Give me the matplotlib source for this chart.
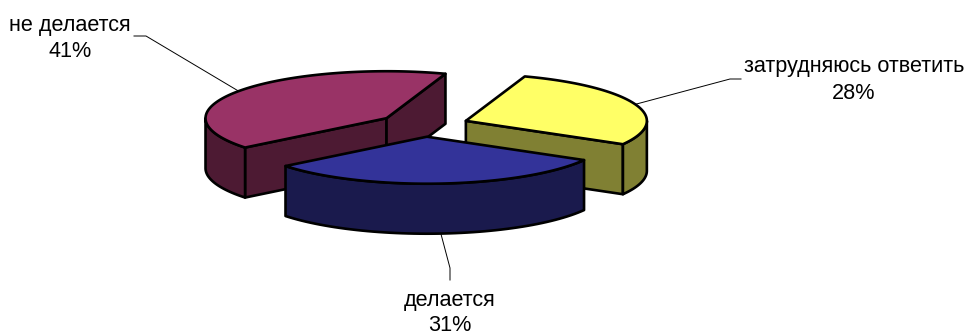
import numpy as np
import matplotlib
matplotlib.use('Agg')
import matplotlib.pyplot as plt
from matplotlib.patches import Polygon

plt.rcParams['font.family'] = ['Liberation Sans', 'DejaVu Sans']

# Данные диаграммы
labels = ['затрудняюсь ответить', 'делается', 'не делается']
values = [28, 31, 41]
top_colors = ['#FFFF66', '#333399', '#993366']
side_colors = ['#808033', '#1A1A4D', '#4D1A33']

# Геометрия псевдо-3D круга (в пикселях)
cx, cy = 423.5, 125
rx, ry = 181, 47
depth = 50
explode = 0.25
start_angle = 71
line_w = 1.9


def ell(x0, y0, t, dy=0):
    t = np.radians(t)
    return np.column_stack([x0 + rx * np.cos(t), y0 - ry * np.sin(t) + dy])


fig = plt.figure(figsize=(9.68, 3.31), dpi=100)
ax = fig.add_axes([0, 0, 1, 1])
ax.set_xlim(0, 968)
ax.set_ylim(331, 0)
ax.axis('off')

# Углы долей (по часовой стрелке от начального угла)
edges = start_angle - np.cumsum([0] + values) * 3.6
slices = []
for i in range(len(values)):
    a0, a1 = edges[i], edges[i + 1]
    mid = np.radians((a0 + a1) / 2)
    x0 = cx + explode * rx * np.cos(mid)
    y0 = cy - explode * ry * np.sin(mid)
    slices.append((i, a0, a1, x0, y0))


def draw_slice(i, a0, a1, x0, y0, z):
    style = dict(edgecolor='black', linewidth=line_w, joinstyle='round', zorder=z)
    # радиальные стенки, которые видно зрителю
    for a, visible in ((a0, np.cos(np.radians(a0)) < 0), (a1, np.cos(np.radians(a1)) > 0)):
        if visible:
            p = ell(x0, y0, a)[0]
            quad = [(x0, y0), p, (p[0], p[1] + depth), (x0, y0 + depth)]
            ax.add_patch(Polygon(quad, facecolor=side_colors[i], **style))
    # внешняя стенка (только нижняя половина эллипса)
    hi = min(a0, 0)
    lo = max(a1, -180)
    if hi > lo:
        t = np.linspace(hi, lo, 60)
        upper = ell(x0, y0, t)
        lower = ell(x0, y0, t, depth)[::-1]
        ax.add_patch(Polygon(np.vstack([upper, lower]), facecolor=side_colors[i], **style))
    # верхняя грань
    t = np.linspace(a0, a1, 120)
    top = np.vstack([[(x0, y0)], ell(x0, y0, t)])
    ax.add_patch(Polygon(top, facecolor=top_colors[i], **style))


# Порядок рисования: задние доли, затем передняя
for s, z in zip((slices[2], slices[0], slices[1]), (2, 3, 4)):
    draw_slice(*s, z)

# Подписи и линии выноски (базовые линии текста)
text_x = [854, 450, 70]
label_y = [72, 306, 31]
pct_y = [99, 331, 57]
bends = [[(730, 79), (741, 79)], [(450, 268), (450, 280)], [(146, 36), (134, 36)]]
for (i, a0, a1, x0, y0), tx, ly, py, bend in zip(slices, text_x, label_y, pct_y, bends):
    mid = (a0 + a1) / 2
    p = ell(x0, y0, mid)[0]
    if np.sin(np.radians(mid)) < -0.5:
        p[1] += depth
    pts = np.vstack([p, bend])
    ax.plot(pts[:, 0], pts[:, 1], color='black', lw=0.7, zorder=1)
    ax.text(tx, ly, labels[i], ha='center', va='baseline', fontsize=15.6, color='black')
    ax.text(tx, py, f'{values[i]}%', ha='center', va='baseline', fontsize=15.6, color='black')

fig.savefig('out.png', dpi=100)
